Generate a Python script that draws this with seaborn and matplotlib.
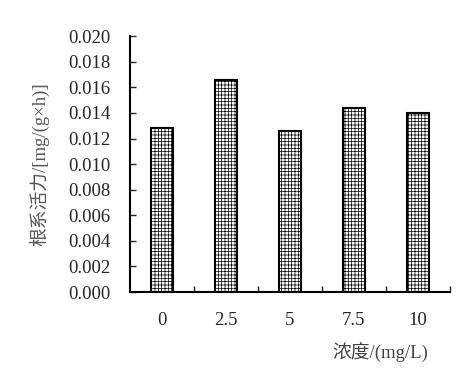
import matplotlib
matplotlib.use('Agg')
import matplotlib.pyplot as plt
import seaborn as sns
import pandas as pd

# dados
concentracoes = ['0', '2.5', '5', '7.5', '10']
atividade = [0.0128, 0.0166, 0.0126, 0.0144, 0.0140]
yticks = [0.000, 0.002, 0.004, 0.006, 0.008, 0.010, 0.012, 0.014, 0.016, 0.018, 0.020]

df = pd.DataFrame({'conc': concentracoes, 'valor': atividade})

sns.set_style('white')
plt.rcParams['font.family'] = ['Liberation Serif', 'Noto Sans CJK SC']
plt.rcParams['hatch.linewidth'] = 0.5
plt.rcParams['hatch.color'] = 'black'

fs = 13.5
fig = plt.figure(figsize=(4.65, 3.73), dpi=100)
ax = fig.add_axes([0.2796, 0.217, 0.688, 0.686])

sns.barplot(data=df, x='conc', y='valor', color='white', width=0.35,
            edgecolor='black', linewidth=1.5, hatch='+++++', ax=ax)

ax.set_ylim(0, 0.020)
ax.set_xlim(-0.5, len(concentracoes) - 0.5)
ax.set_yticks(yticks)
ax.set_yticklabels([f'{v:.3f}' for v in yticks], fontsize=fs)

# ticks entre as categorias, rótulos no centro
ax.set_xticks([i - 0.5 for i in range(len(concentracoes) + 1)][1:])
ax.set_xticklabels([])
ax.set_xticks(range(len(concentracoes)), minor=True)
ax.set_xticklabels(concentracoes, minor=True, fontsize=fs)
ax.tick_params(axis='x', which='major', direction='in', length=4, width=1, bottom=True)
ax.tick_params(axis='x', which='minor', length=0, pad=14, bottom=True)
ax.tick_params(axis='y', direction='in', length=4, width=1, left=True, pad=14)

for s in ['top', 'right']:
    ax.spines[s].set_visible(False)
for s in ['left', 'bottom']:
    ax.spines[s].set_color('black')
    ax.spines[s].set_linewidth(1.5)

ax.set_xlabel('')
ax.set_ylabel('根系活力/[mg/(g×h)]', fontsize=fs, color='#555555', labelpad=14)
fig.text(0.817, 0.027, '浓度/(mg/L)', fontsize=fs, ha='center', va='bottom', color='#444444')

plt.savefig('out.png', dpi=100)
plt.close()
